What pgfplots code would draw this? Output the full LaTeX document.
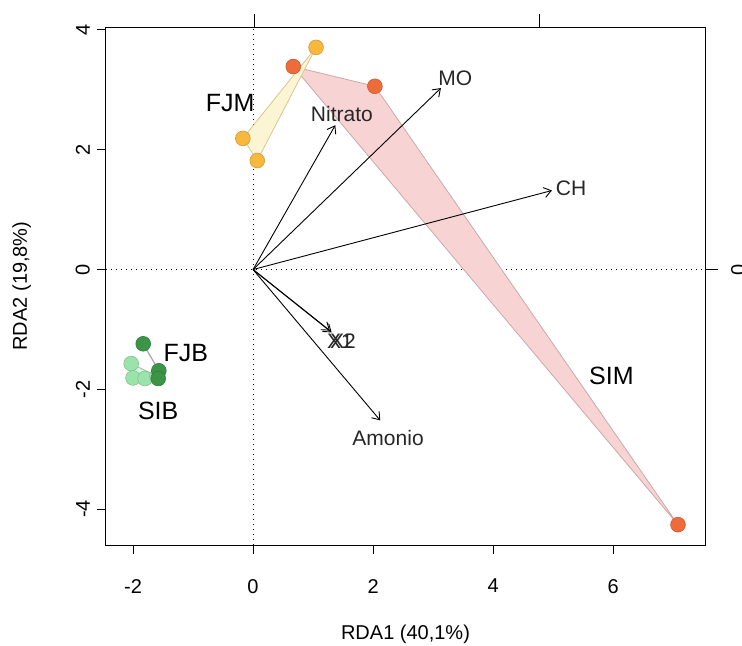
\documentclass[border=0pt]{standalone}
\usepackage{fontspec}
\setmainfont{Liberation Sans}
\usepackage{pgfplots}
\pgfplotsset{compat=1.18}
\usetikzlibrary{arrows.meta}
\definecolor{fjmc}{HTML}{F7B83E}
\definecolor{simc}{HTML}{EE6B3A}
\definecolor{fjbc}{HTML}{3C9446}
\definecolor{sibc}{HTML}{9BE3AA}
\definecolor{fjmfill}{HTML}{FBF5D3}
\definecolor{fjmedge}{HTML}{D8C690}
\definecolor{simfill}{HTML}{F8D3D3}
\definecolor{simedge}{HTML}{C9A9A9}
\begin{document}
\begin{tikzpicture}
\begin{axis}[
  scale only axis, width=299.5pt, height=259pt,
  xmin=-2.45, xmax=7.53, ymin=-4.6, ymax=4.05,
  xtick={-2,0,2,4,6}, xticklabels={-2,0,2,4,6},
  ytick={-4,-2,0,2,4}, yticklabels={-4,-2,0,2,4},
  xtick pos=left, ytick pos=left, tick align=outside,
  major tick length=4.5pt,
  every tick/.style={black, line width=0.5pt},
  axis line style={line width=0.5pt},
  ticklabel style={font=\fontsize{10}{12}\selectfont},
  xticklabel style={yshift=-9pt},
  yticklabel style={rotate=90, anchor=south},
  xlabel={RDA1 (40,1\%)}, ylabel={RDA2 (19,8\%)},
  label style={font=\fontsize{10}{12}\selectfont},
  xlabel style={yshift=-9pt},
  ylabel style={yshift=15.5pt},
  clip=false,
]
% dotted origin lines
\addplot[black, dotted, line width=0.5pt, forget plot] coordinates {(0,-4.6) (0,4.05)};
\addplot[black, dotted, line width=0.5pt, forget plot] coordinates {(-2.45,0) (7.53,0)};
% hulls
\addplot[fill=simfill, draw=simedge, line width=0.4pt] coordinates {(0.67,3.39) (2.03,3.06) (7.08,-4.26)} -- cycle;
\addplot[fill=fjmfill, draw=fjmedge, line width=0.4pt] coordinates {(1.05,3.71) (-0.17,2.19) (0.07,1.82)} -- cycle;
\addplot[fill=sibc!40, draw=sibc!70!gray, line width=0.4pt] coordinates {(-2.03,-1.57) (-2.0,-1.81) (-1.8,-1.82) (-1.6,-1.78)} -- cycle;
\addplot[draw=gray!70, line width=0.6pt] coordinates {(-1.83,-1.24) (-1.57,-1.69) (-1.58,-1.82)};
% arrows
\pgfplotsset{arr/.style={black, line width=0.45pt, -{Straight Barb[length=3.5pt,width=5pt]}}}
\addplot[arr] coordinates {(0,0) (1.37,2.41)};
\addplot[arr] coordinates {(0,0) (3.13,3.03)};
\addplot[arr] coordinates {(0,0) (4.98,1.32)};
\addplot[arr] coordinates {(0,0) (1.28,-1.02)};
\addplot[arr] coordinates {(0,0) (1.31,-1.05)};
\addplot[arr] coordinates {(0,0) (2.12,-2.52)};
% points
\addplot[only marks, mark=*, mark size=3.7pt, mark options={fill=sibc, draw=sibc!85!black, line width=0.3pt}] coordinates {(-2.03,-1.57) (-2.0,-1.81) (-1.8,-1.82) (-1.6,-1.78)};
\addplot[only marks, mark=*, mark size=3.7pt, mark options={fill=fjbc, draw=fjbc!85!black, line width=0.3pt}] coordinates {(-1.83,-1.24) (-1.57,-1.69) (-1.58,-1.82)};
\addplot[only marks, mark=*, mark size=3.7pt, mark options={fill=fjmc, draw=fjmc!85!black, line width=0.3pt}] coordinates {(1.05,3.71) (-0.17,2.19) (0.07,1.82)};
\addplot[only marks, mark=*, mark size=3.7pt, mark options={fill=simc, draw=simc!85!black, line width=0.3pt}] coordinates {(0.67,3.39) (2.03,3.06) (7.08,-4.26)};
% arrow labels
\node[font=\fontsize{10.5}{12}\selectfont, text=black!85] at (axis cs:1.48,2.6) {Nitrato};
\node[font=\fontsize{10.5}{12}\selectfont, text=black!85] at (axis cs:3.37,3.19) {MO};
\node[font=\fontsize{10.5}{12}\selectfont, text=black!85] at (axis cs:5.3,1.35) {CH};
\node[font=\fontsize{10.5}{12}\selectfont, text=black!85] at (axis cs:1.45,-1.2) {X1};
\node[font=\fontsize{10.5}{12}\selectfont, text=black!85] at (axis cs:1.5,-1.2) {X2};
\node[font=\fontsize{10.5}{12}\selectfont, text=black!85] at (axis cs:2.25,-2.81) {Amonio};
% group labels
\node[font=\fontsize{12.5}{14}\selectfont] at (axis cs:-0.38,2.78) {FJM};
\node[font=\fontsize{12.5}{14}\selectfont] at (axis cs:-1.12,-1.39) {FJB};
\node[font=\fontsize{12.5}{14}\selectfont] at (axis cs:-1.58,-2.36) {SIB};
\node[font=\fontsize{12.5}{14}\selectfont] at (axis cs:5.97,-1.77) {SIM};
\end{axis}
\begin{axis}[
  scale only axis, width=299.5pt, height=259pt,
  xmin=-2.45, xmax=7.53, ymin=-4.6, ymax=4.05,
  axis line style={draw=none},
  xtick={0.02,4.78}, xticklabels={}, xtick pos=right,
  ytick={0}, yticklabels={0}, ytick pos=right, yticklabel pos=right,
  tick align=outside, major tick length=6.5pt,
  every tick/.style={black, line width=0.5pt},
  ticklabel style={font=\fontsize{10}{12}\selectfont},
  yticklabel style={rotate=90, anchor=north, yshift=-3pt},
]
\end{axis}
\pgfresetboundingbox
\path[use as bounding box] ([shift={(-53pt,-50pt)}]current axis.south west) rectangle ([shift={(18.5pt,13.5pt)}]current axis.north east);
\end{tikzpicture}
\end{document}
